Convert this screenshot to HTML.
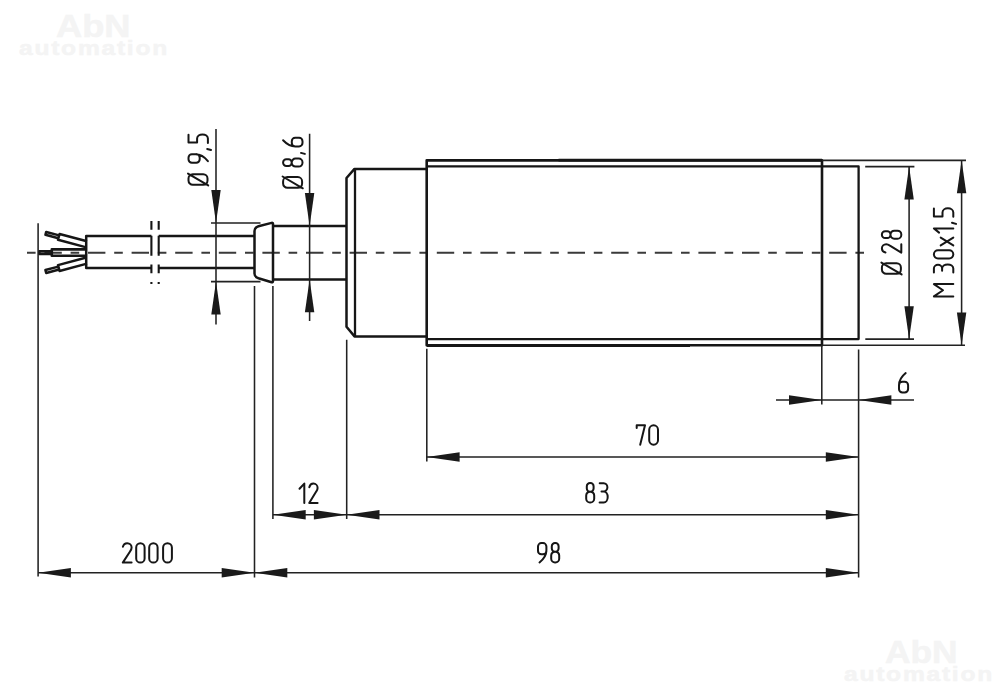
<!DOCTYPE html>
<html><head><meta charset="utf-8"><title>Drawing</title>
<style>
html,body{margin:0;padding:0;background:#fff;width:1000px;height:691px;overflow:hidden;}
.wm{position:absolute;font-family:"Liberation Sans",sans-serif;font-weight:bold;color:#f4f4f4;-webkit-text-stroke:0.5px #f4f4f4;line-height:1;white-space:nowrap;}
svg{position:absolute;left:0;top:0;}
</style></head>
<body>
<div class="wm" style="left:56px;top:11px;font-size:31px;transform:scaleX(1.17);transform-origin:0 0;">AbN</div>
<div class="wm" style="left:19px;top:37px;font-size:21px;letter-spacing:1.5px;transform:scaleX(1.17);transform-origin:0 0;">automation</div>
<div class="wm" style="left:885px;top:637px;font-size:31px;transform:scaleX(1.14);transform-origin:0 0;">AbN</div>
<div class="wm" style="left:844px;top:663px;font-size:21px;letter-spacing:1.5px;transform:scaleX(1.17);transform-origin:0 0;">automation</div>
<svg width="1000" height="691" viewBox="0 0 1000 691">
<line x1="27" y1="252.75" x2="865" y2="252.75" stroke="#3a3a3a" stroke-width="1.9" stroke-dasharray="17.4 8.8 8.6 8.8" stroke-dashoffset="26.2"/>
<g fill="none" stroke="#161616" stroke-linejoin="round"><path d="M426.7,160.35 H822 V345.3 H426.7 Z" stroke-width="2.6"/>
<path d="M558.5,160.1 H822 M426.7,345.5 H690" stroke-width="2.9" stroke-linejoin="miter"/>
<path d="M426.7,166.35 H858.6 V339.1 H426.7" stroke-width="2.3"/>
<path d="M426.7,168.9 H354.5 L346.5,178 V326.8 L354.5,336.4 H426.7" stroke-width="2.5"/>
<path d="M355,168.9 V336.4" stroke-width="2.3"/>
<path d="M273,225.9 H346.5 M273,279.4 H346.5" stroke-width="2.5"/>
<path d="M273,224 Q273,222.6 271.6,222.9 L258.5,226.3 Q254.5,227.6 254.5,231 V273.5 Q254.5,277 258.5,278.3 L271.6,282.2 Q273,282.5 273,281 Z" stroke-width="2.5"/>
<path d="M254.5,236.1 H158.7 M151.4,236.1 H86.2 V268.1 H151.4 M158.7,268.1 H254.5" stroke-width="2.5"/>
<path d="M151.4,221 V229.7 M158.7,221 V229.7 M151.4,235.7 V255.8 M158.7,235.7 V255.8 M151.4,264.5 V273.2 M158.7,264.5 V273.2 M151.4,282.1 V283.9 M158.7,282.1 V283.9" stroke-width="2.1"/>
<path d="M86.2,249.4 H51.8 V255.8 H86.2" stroke-width="2.6"/>
<path d="M51.8,251.3 H39.3 V254.0 H51.8" stroke-width="2.6"/>
<g transform="translate(86.2,244.2) rotate(15)"><path d="M0,-3.0 H-28.4 V3.0 H0" stroke-width="2.5"/><path d="M-28.4,-1.5 H-41.8 V1.5 H-28.4" stroke-width="2.5"/></g>
<g transform="translate(86.2,260.7) rotate(-15)"><path d="M0,-3.0 H-28.4 V3.0 H0" stroke-width="2.5"/><path d="M-28.4,-1.5 H-41.8 V1.5 H-28.4" stroke-width="2.5"/></g></g>
<path fill="none" stroke="#222" stroke-width="1.55" d="M211,222.9 H260.5 M211,281.6 H260.5 M822,160.35 H966 M822,345.2 H965 M865.2,166.6 H914.4 M865.3,339.1 H914 M821.8,345 V404.6 M858.6,349.4 V577.5 M426.8,348.8 V461.6 M346.7,339.7 V519.1 M272.9,286.1 V519.1 M254.5,286.1 V577.5 M38.1,223.3 V576.6 M216,129 V324.6 M309.6,133.8 V321.1 M909.1,166.6 V339.1 M961.6,160.35 V345.2 M776,400 H914 M426.8,457 H858.6 M272.9,514.8 H858.6 M38.1,572.7 H858.6"/>
<g fill="#1a1a1a" stroke="none"><polygon points="216.00,222.90 211.30,190.10 220.70,190.10"/>
<polygon points="216.00,281.60 211.30,314.40 220.70,314.40"/>
<polygon points="309.60,225.90 304.90,193.10 314.30,193.10"/>
<polygon points="309.60,279.40 304.90,312.20 314.30,312.20"/>
<polygon points="909.10,166.60 904.40,199.40 913.80,199.40"/>
<polygon points="909.10,339.10 904.40,306.30 913.80,306.30"/>
<polygon points="961.60,160.35 956.90,193.15 966.30,193.15"/>
<polygon points="961.60,345.20 956.90,312.40 966.30,312.40"/>
<polygon points="821.80,400.00 789.00,395.30 789.00,404.70"/>
<polygon points="858.60,400.00 891.40,395.30 891.40,404.70"/>
<polygon points="426.80,457.00 459.60,452.30 459.60,461.70"/>
<polygon points="858.60,457.00 825.80,452.30 825.80,461.70"/>
<polygon points="272.90,514.80 305.70,510.10 305.70,519.50"/>
<polygon points="346.70,514.80 313.90,510.10 313.90,519.50"/>
<polygon points="346.70,514.80 379.50,510.10 379.50,519.50"/>
<polygon points="858.60,514.80 825.80,510.10 825.80,519.50"/>
<polygon points="254.50,572.70 287.30,568.00 287.30,577.40"/>
<polygon points="858.60,572.70 825.80,568.00 825.80,577.40"/>
<polygon points="38.10,572.70 70.90,568.00 70.90,577.40"/>
<polygon points="254.50,572.70 221.70,568.00 221.70,577.40"/></g>
<g fill="none" stroke="#161616" stroke-width="2.0" stroke-linecap="round" stroke-linejoin="round"><g transform="translate(122.8,543.2)"><path d="M0.1,3.6 C0.7,1.3 2.3,0 4.40,0 C6.90,0 8.80,1.9 8.80,4.3 C8.80,5.8 8.20,6.9 7.40,8.0 L0,19.40 H8.80"/></g>
<g transform="translate(136.2,543.2)"><path d="M0,4.20 A4.20,4.20 0 0 1 8.40,4.20 V15.20 A4.20,4.20 0 0 1 0,15.20 Z"/></g>
<g transform="translate(149.2,543.2)"><path d="M0,4.20 A4.20,4.20 0 0 1 8.40,4.20 V15.20 A4.20,4.20 0 0 1 0,15.20 Z"/></g>
<g transform="translate(163.1,543.2)"><path d="M0,4.40 A4.40,4.40 0 0 1 8.80,4.40 V15.00 A4.40,4.40 0 0 1 0,15.00 Z"/></g>
<g transform="translate(586.2,483.1)"><path d="M3.80,0 H4.20 A3.2,3.2 0 0 1 7.40,3.2 V5.40 A3.2,3.2 0 0 1 4.20,8.60 H3.80 A3.2,3.2 0 0 1 0.60,5.40 V3.2 A3.2,3.2 0 0 1 3.80,0 Z M3.8,8.60 H4.20 A3.8,3.8 0 0 1 8.00,12.40 V15.60 A3.8,3.8 0 0 1 4.20,19.40 H3.8 A3.8,3.8 0 0 1 0,15.60 V12.40 A3.8,3.8 0 0 1 3.8,8.60 Z"/></g>
<g transform="translate(599.5,483.2)"><path d="M0.2,0 H4.2 A3.70,4.10 0 0 1 4.2,8.20 H2.0 M4.2,8.20 A4.00,5.60 0 0 1 4.2,19.40 H0.1"/></g>
<g transform="translate(538.0,543.1)"><path d="M8.40,7.80 A3.4,3.4 0 0 1 5.00,11.20 H3.4 A3.4,3.4 0 0 1 0,7.80 V3.4 A3.4,3.4 0 0 1 3.4,0 H5.00 A3.4,3.4 0 0 1 8.40,3.4 V7.2 C8.40,12 5.80,16 1.5,19.40"/></g>
<g transform="translate(551.2,543.1)"><path d="M3.80,0 H4.20 A3.2,3.2 0 0 1 7.40,3.2 V5.40 A3.2,3.2 0 0 1 4.20,8.60 H3.80 A3.2,3.2 0 0 1 0.60,5.40 V3.2 A3.2,3.2 0 0 1 3.80,0 Z M3.8,8.60 H4.20 A3.8,3.8 0 0 1 8.00,12.40 V15.60 A3.8,3.8 0 0 1 4.20,19.40 H3.8 A3.8,3.8 0 0 1 0,15.60 V12.40 A3.8,3.8 0 0 1 3.8,8.60 Z"/></g>
<g transform="translate(636.4,425.3)"><path d="M0.3,2.8 V0 H8.60 L3.8,19.40"/></g>
<g transform="translate(649.2,425.3)"><path d="M0,4.40 A4.40,4.40 0 0 1 8.80,4.40 V15.00 A4.40,4.40 0 0 1 0,15.00 Z"/></g>
<g transform="translate(299.5,483.6)"><path d="M0,5.2 L4.80,0 V19.40"/></g>
<g transform="translate(309.2,483.6)"><path d="M0.1,3.6 C0.7,1.3 2.3,0 4.20,0 C6.50,0 8.40,1.9 8.40,4.3 C8.40,5.8 7.80,6.9 7.00,8.0 L0,19.40 H8.40"/></g>
<g transform="translate(899.0,373.1)"><g transform="rotate(180 4.55 9.70)"><path d="M9.10,7.30 A3.4,3.4 0 0 1 5.70,10.70 H3.4 A3.4,3.4 0 0 1 0,7.30 V3.4 A3.4,3.4 0 0 1 3.4,0 H5.70 A3.4,3.4 0 0 1 9.10,3.4 V7.2 C9.10,12 6.50,16 2.4,19.40"/></g></g>
<g transform="translate(188.5,184.8) rotate(-90)"><path d="M4.3,0 H6.30 A4.3,4.3 0 0 1 10.60,4.3 V14.70 A4.3,4.3 0 0 1 6.30,19.00 H4.3 A4.3,4.3 0 0 1 0,14.70 V4.3 A4.3,4.3 0 0 1 4.3,0 Z M11.20,-0.5 L-0.6,19.70"/></g>
<g transform="translate(188.5,162.7) rotate(-90)"><path d="M8.40,7.80 A3.4,3.4 0 0 1 5.00,11.20 H3.4 A3.4,3.4 0 0 1 0,7.80 V3.4 A3.4,3.4 0 0 1 3.4,0 H5.00 A3.4,3.4 0 0 1 8.40,3.4 V7.2 C8.40,12 5.80,16 1.5,19.40"/></g>
<g transform="translate(188.5,143.0) rotate(-90)"><path d="M8.30,0 H0.4 V8.60 H4.4 A4.20,5.40 0 0 1 4.4,19.40 H0"/></g>
<g transform="translate(283.1,187.7) rotate(-90)"><path d="M4.3,0 H6.30 A4.3,4.3 0 0 1 10.60,4.3 V14.70 A4.3,4.3 0 0 1 6.30,19.00 H4.3 A4.3,4.3 0 0 1 0,14.70 V4.3 A4.3,4.3 0 0 1 4.3,0 Z M11.20,-0.5 L-0.6,19.70"/></g>
<g transform="translate(283.1,166.6) rotate(-90)"><path d="M3.80,0 H4.20 A3.2,3.2 0 0 1 7.40,3.2 V5.40 A3.2,3.2 0 0 1 4.20,8.60 H3.80 A3.2,3.2 0 0 1 0.60,5.40 V3.2 A3.2,3.2 0 0 1 3.80,0 Z M3.8,8.60 H4.20 A3.8,3.8 0 0 1 8.00,12.40 V15.60 A3.8,3.8 0 0 1 4.20,19.40 H3.8 A3.8,3.8 0 0 1 0,15.60 V12.40 A3.8,3.8 0 0 1 3.8,8.60 Z"/></g>
<g transform="translate(283.1,146.4) rotate(-90)"><g transform="rotate(180 4.30 9.70)"><path d="M8.60,7.30 A3.4,3.4 0 0 1 5.20,10.70 H3.4 A3.4,3.4 0 0 1 0,7.30 V3.4 A3.4,3.4 0 0 1 3.4,0 H5.20 A3.4,3.4 0 0 1 8.60,3.4 V7.2 C8.60,12 6.00,16 2.4,19.40"/></g></g>
<g transform="translate(881.9,273.8) rotate(-90)"><path d="M4.3,0 H6.30 A4.3,4.3 0 0 1 10.60,4.3 V14.70 A4.3,4.3 0 0 1 6.30,19.00 H4.3 A4.3,4.3 0 0 1 0,14.70 V4.3 A4.3,4.3 0 0 1 4.3,0 Z M11.20,-0.5 L-0.6,19.70"/></g>
<g transform="translate(881.9,252.6) rotate(-90)"><path d="M0.1,3.6 C0.7,1.3 2.3,0 4.20,0 C6.50,0 8.40,1.9 8.40,4.3 C8.40,5.8 7.80,6.9 7.00,8.0 L0,19.40 H8.40"/></g>
<g transform="translate(881.9,238.7) rotate(-90)"><path d="M3.80,0 H4.20 A3.2,3.2 0 0 1 7.40,3.2 V5.40 A3.2,3.2 0 0 1 4.20,8.60 H3.80 A3.2,3.2 0 0 1 0.60,5.40 V3.2 A3.2,3.2 0 0 1 3.80,0 Z M3.8,8.60 H4.20 A3.8,3.8 0 0 1 8.00,12.40 V15.60 A3.8,3.8 0 0 1 4.20,19.40 H3.8 A3.8,3.8 0 0 1 0,15.60 V12.40 A3.8,3.8 0 0 1 3.8,8.60 Z"/></g>
<g transform="translate(933.9,296.4) rotate(-90)"><path d="M0,19.40 V0 L6.15,9.10 L12.30,0 V19.40"/></g>
<g transform="translate(933.9,272.7) rotate(-90)"><path d="M0.2,0 H4.2 A3.70,4.10 0 0 1 4.2,8.20 H2.0 M4.2,8.20 A4.00,5.60 0 0 1 4.2,19.40 H0.1"/></g>
<g transform="translate(933.9,258.4) rotate(-90)"><path d="M0,4.10 A4.10,4.10 0 0 1 8.20,4.10 V15.30 A4.10,4.10 0 0 1 0,15.30 Z"/></g>
<g transform="translate(933.9,245.4) rotate(-90)"><path d="M0,6.8 L7.80,19.40 M7.80,6.8 L0,19.40"/></g>
<g transform="translate(933.9,232.6) rotate(-90)"><path d="M0,5.2 L4.20,0 V19.40"/></g>
<g transform="translate(933.9,216.8) rotate(-90)"><path d="M8.30,0 H0.4 V8.60 H4.4 A4.20,5.40 0 0 1 4.4,19.40 H0"/></g><path d="M207.2,149.0 L211.0,150.0 M301.0,152.9 L304.8,153.9 M952.0,222.7 L956.0,223.9"/></g>
</svg>
</body></html>
